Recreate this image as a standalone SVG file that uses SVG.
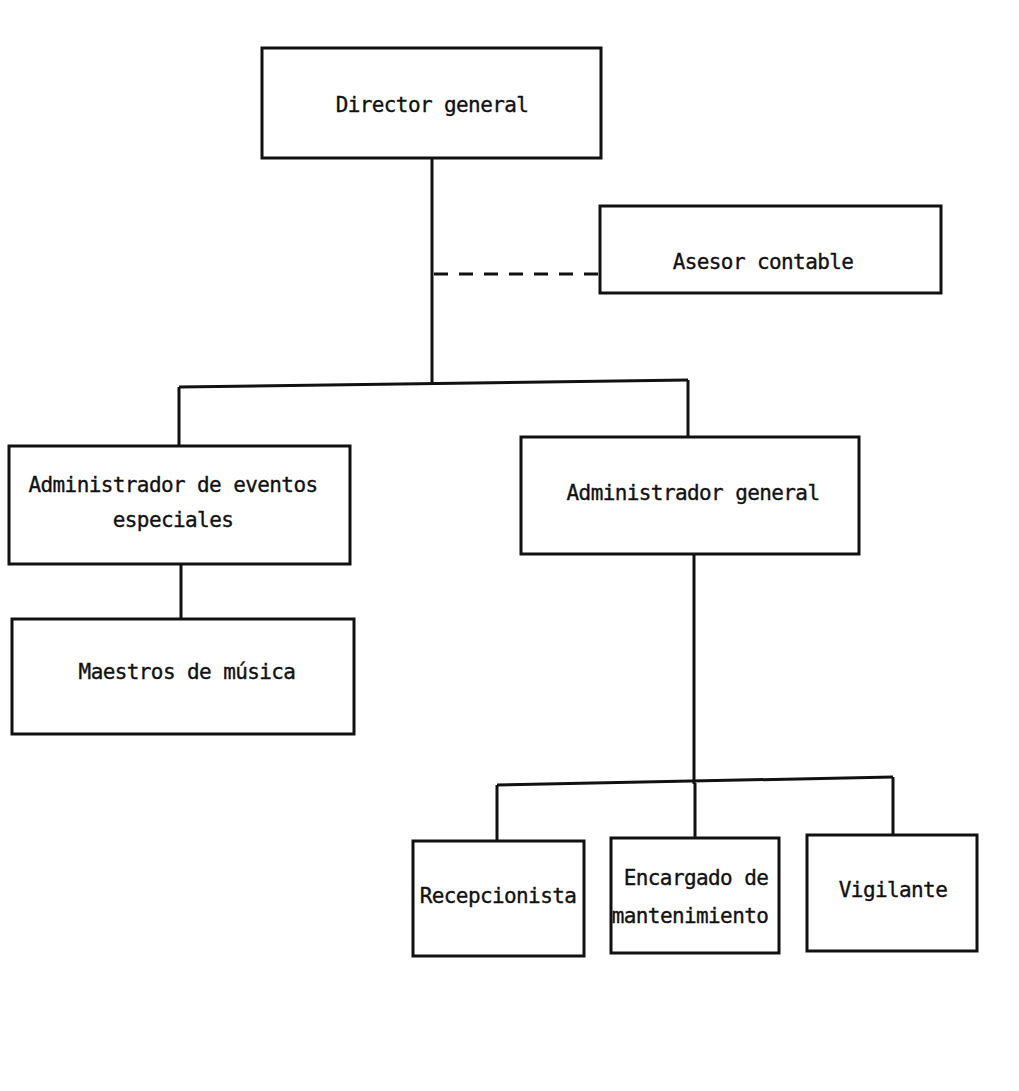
<svg xmlns="http://www.w3.org/2000/svg" width="1019" height="1091" viewBox="0 0 1019 1091">
  <style>
    .box { fill: #ffffff; stroke: #111111; stroke-width: 3; }
    .line { fill: none; stroke: #111111; stroke-width: 3; }
    .dash { fill: none; stroke: #111111; stroke-width: 3; stroke-dasharray: 14 11; }
    .lbl { font-family: "DejaVu Sans Mono", "Liberation Mono", monospace; font-size: 21px; letter-spacing: -0.6px; fill: #111111; stroke: #111111; stroke-width: 0.35; text-anchor: middle; }
  </style>
  <rect width="1019" height="1091" fill="#ffffff"/>
  <g id="connectors">
    <path class="line" d="M432,158 L432,385"/>
    <path class="line" d="M179,387 L688,380"/>
    <path class="line" d="M179,387 L179,446"/>
    <path class="line" d="M688,380 L688,437"/>
    <path class="dash" d="M434,274 L600,274"/>
    <path class="line" d="M181,564 L181,619"/>
    <path class="line" d="M694,554 L694,784"/>
    <path class="line" d="M497,785 L893,777"/>
    <path class="line" d="M497,785 L497,841"/>
    <path class="line" d="M695,783 L695,838"/>
    <path class="line" d="M893,777 L893,835"/>
  </g>
  <g id="director-general">
    <rect class="box" x="262" y="48" width="339" height="110"/>
    <text class="lbl" x="432" y="112">Director general</text>
  </g>
  <g id="asesor-contable">
    <rect class="box" x="600" y="206" width="341" height="87"/>
    <text class="lbl" x="763" y="269">Asesor contable</text>
  </g>
  <g id="admin-eventos">
    <rect class="box" x="9" y="446" width="341" height="118"/>
    <text class="lbl" x="173" y="492">Administrador de eventos</text>
    <text class="lbl" x="173" y="527">especiales</text>
  </g>
  <g id="maestros-musica">
    <rect class="box" x="12" y="619" width="342" height="115"/>
    <text class="lbl" x="187" y="679">Maestros de música</text>
  </g>
  <g id="admin-general">
    <rect class="box" x="521" y="437" width="338" height="117"/>
    <text class="lbl" x="693" y="500">Administrador general</text>
  </g>
  <g id="recepcionista">
    <rect class="box" x="413" y="841" width="171" height="115"/>
    <text class="lbl" x="498" y="903">Recepcionista</text>
  </g>
  <g id="encargado-mantenimiento">
    <rect class="box" x="611" y="838" width="168" height="115"/>
    <text class="lbl" x="696" y="885">Encargado de</text>
    <text class="lbl" x="690" y="923">mantenimiento</text>
  </g>
  <g id="vigilante">
    <rect class="box" x="807" y="835" width="170" height="116"/>
    <text class="lbl" x="893" y="897">Vigilante</text>
  </g>
</svg>
